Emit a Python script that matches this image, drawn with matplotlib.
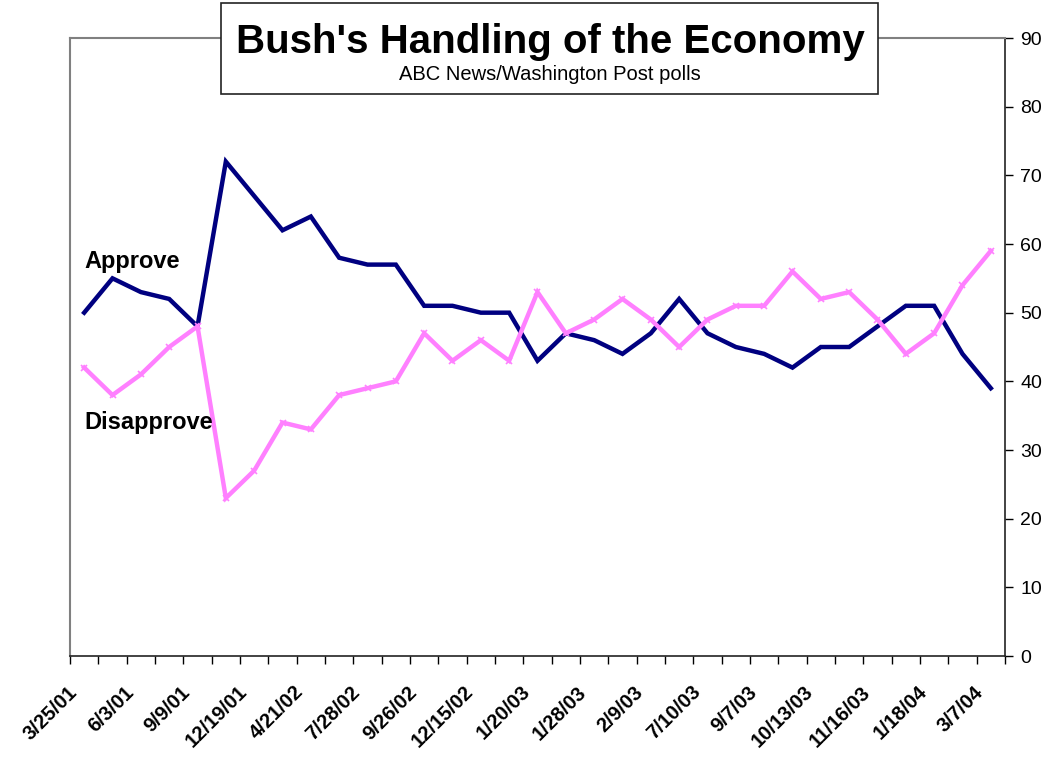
import matplotlib
matplotlib.use("Agg")
import matplotlib.pyplot as plt
import matplotlib.transforms as mtransforms
import numpy as np

plt.rcParams["font.family"] = ["Liberation Sans", "DejaVu Sans"]

# poll dates (every other one is labelled on the axis)
tick_labels = ["3/25/01", "6/3/01", "9/9/01", "12/19/01", "4/21/02", "7/28/02",
               "9/26/02", "12/15/02", "1/20/03", "1/28/03", "2/9/03", "7/10/03",
               "9/7/03", "10/13/03", "11/16/03", "1/18/04", "3/7/04"]

approve = [50, 55, 53, 52, 48, 72, 67, 62, 64, 58, 57, 57, 51, 51, 50, 50, 43,
           47, 46, 44, 47, 52, 47, 45, 44, 42, 45, 45, 48, 51, 51, 44, 39]
disapprove = [42, 38, 41, 45, 48, 23, 27, 34, 33, 38, 39, 40, 47, 43, 46, 43, 53,
              47, 49, 52, 49, 45, 49, 51, 51, 56, 52, 53, 49, 44, 47, 54, 59]

n = len(approve)
x = np.arange(n)

fig = plt.figure(figsize=(10.45, 7.57), dpi=100, facecolor="white")
ax = fig.add_axes([0.067, 0.1334, 0.8947, 0.8164])

ax.plot(x, approve, "-", color="#000080", linewidth=3.2, solid_joinstyle="miter")
ax.plot(x, disapprove, "-", color="#FF80FF", linewidth=3.2, marker="x",
        markersize=5, markeredgewidth=1.2, solid_joinstyle="miter")

ax.set_xlim(-0.5, n - 0.5)
ax.set_ylim(0, 90)

# y axis on the right
ax.yaxis.tick_right()
ax.set_yticks(np.arange(0, 91, 10))
ax.tick_params(axis="y", direction="out", length=6, width=1, labelsize=14, pad=5)

# category boundaries get tick marks, labels on every other category
ax.set_xticks(x[::2])
ax.set_xticklabels(tick_labels, rotation=45, ha="right", rotation_mode="anchor",
                   fontsize=14.5, fontweight="bold")
ax.set_xticks(np.arange(-0.5, n, 1), minor=True)
ax.tick_params(axis="x", which="major", length=0, pad=19)
ax.tick_params(axis="x", which="minor", direction="out", length=6, width=1)
shift = mtransforms.ScaledTranslation(-0.17, 0, fig.dpi_scale_trans)
for lbl in ax.get_xticklabels():
    lbl.set_transform(lbl.get_transform() + shift)

for side in ["left", "top"]:
    ax.spines[side].set_color("#808080")
    ax.spines[side].set_linewidth(1.5)
for side in ["bottom", "right"]:
    ax.spines[side].set_color("#222222")
    ax.spines[side].set_linewidth(1.2)

ax.text(0.0, 57.5, "Approve", fontsize=17, fontweight="bold", ha="left", va="center")
ax.text(0.0, 34.0, "Disapprove", fontsize=17, fontweight="bold", ha="left", va="center")

# title box
fig.patches.append(plt.Rectangle((221 / 1045, 1 - 94 / 757), 657 / 1045, 91 / 757,
                                 transform=fig.transFigure, facecolor="white",
                                 edgecolor="#222222", linewidth=1.2, zorder=5))
fig.text(550 / 1045, 1 - 42 / 757, "Bush's Handling of the Economy", fontsize=29,
         fontweight="bold", ha="center", va="center", zorder=6)
fig.text(550 / 1045, 1 - 75 / 757, "ABC News/Washington Post polls", fontsize=14.5,
         ha="center", va="center", zorder=6)

fig.savefig("out.png", dpi=100, facecolor="white")
